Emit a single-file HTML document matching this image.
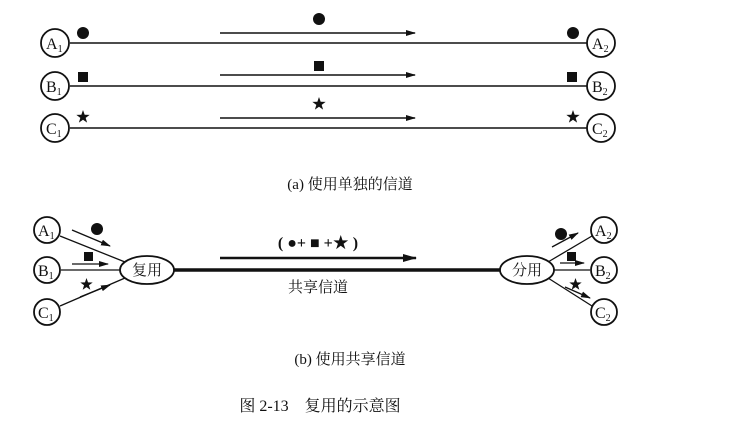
<!DOCTYPE html>
<html><head><meta charset="utf-8"><style>
body{margin:0;background:#fff}
svg text{font-family:"Liberation Serif","Noto Serif CJK SC",serif;fill:#111}
</style></head><body>
<svg width="739" height="422" viewBox="0 0 739 422" xmlns="http://www.w3.org/2000/svg">
<defs>
<marker id="ah" markerWidth="10" markerHeight="6" refX="9" refY="3" orient="auto" markerUnits="userSpaceOnUse"><path d="M0,0 L10,3 L0,6 Z" fill="#111"/></marker>
<marker id="ah2" markerWidth="14" markerHeight="8" refX="13" refY="4" orient="auto" markerUnits="userSpaceOnUse"><path d="M0,0 L14,4 L0,8 Z" fill="#111"/></marker>
<symbol id="star" viewBox="-1 -1 2 2"><path d="M0,-1 L0.235,-0.324 L0.951,-0.309 L0.38,0.124 L0.588,0.809 L0,0.4 L-0.588,0.809 L-0.38,0.124 L-0.951,-0.309 L-0.235,-0.324Z" fill="#111"/></symbol>
</defs>
<g stroke="#111" fill="none">
<line x1="70" y1="43" x2="588" y2="43" stroke-width="1.5"/>
<line x1="70" y1="86" x2="588" y2="86" stroke-width="1.5"/>
<line x1="70" y1="128" x2="588" y2="128" stroke-width="1.5"/>
<line x1="220" y1="33" x2="415" y2="33" stroke-width="1.5" marker-end="url(#ah)"/>
<line x1="220" y1="75" x2="415" y2="75" stroke-width="1.5" marker-end="url(#ah)"/>
<line x1="220" y1="118" x2="415" y2="118" stroke-width="1.5" marker-end="url(#ah)"/>
</g>
<g stroke="#111" stroke-width="1.8" fill="#fff">
<circle cx="55" cy="43" r="14"/><circle cx="55" cy="86" r="14"/><circle cx="55" cy="128" r="14"/>
<circle cx="601" cy="43" r="14"/><circle cx="601" cy="86" r="14"/><circle cx="601" cy="128" r="14"/>
</g>
<g font-size="16">
<text x="46" y="49">A<tspan font-size="10" dy="3">1</tspan></text>
<text x="46" y="92">B<tspan font-size="10" dy="3">1</tspan></text>
<text x="46" y="134">C<tspan font-size="10" dy="3">1</tspan></text>
<text x="592" y="49">A<tspan font-size="10" dy="3">2</tspan></text>
<text x="592" y="92">B<tspan font-size="10" dy="3">2</tspan></text>
<text x="592" y="134">C<tspan font-size="10" dy="3">2</tspan></text>
</g>
<g fill="#111">
<circle cx="83" cy="33" r="6"/><circle cx="319" cy="19" r="6"/><circle cx="573" cy="33" r="6"/>
<rect x="78" y="72" width="10" height="10"/><rect x="314" y="61" width="10" height="10"/><rect x="567" y="72" width="10" height="10"/>
</g>
<use href="#star" x="76" y="110" width="14" height="14"/>
<use href="#star" x="312" y="97" width="14" height="14"/>
<use href="#star" x="566" y="110" width="14" height="14"/>
<text x="350" y="189" font-size="15" text-anchor="middle">(a) 使用单独的信道</text>

<g stroke="#111" fill="none" stroke-width="1.3">
<line x1="60" y1="236" x2="125" y2="262"/>
<line x1="61" y1="270" x2="122" y2="270"/>
<line x1="60" y1="306" x2="125" y2="278"/>
<line x1="72" y1="230" x2="110" y2="246" marker-end="url(#ah)"/>
<line x1="72" y1="264" x2="108" y2="264" marker-end="url(#ah)"/>
<line x1="80" y1="297" x2="110" y2="285" marker-end="url(#ah)"/>
<line x1="548" y1="262" x2="592" y2="236"/>
<line x1="553" y1="270" x2="590" y2="270"/>
<line x1="548" y1="278" x2="592" y2="306"/>
<line x1="552" y1="247" x2="578" y2="233" marker-end="url(#ah)"/>
<line x1="560" y1="263" x2="584" y2="263" marker-end="url(#ah)"/>
<line x1="565" y1="287" x2="590" y2="298" marker-end="url(#ah)"/>
<line x1="174" y1="270" x2="502" y2="270" stroke-width="3.5"/>
<line x1="220" y1="258" x2="416" y2="258" stroke-width="2.5" marker-end="url(#ah2)"/>
</g>
<g stroke="#111" stroke-width="1.8" fill="#fff">
<circle cx="47" cy="230" r="13"/><circle cx="47" cy="270" r="13"/><circle cx="47" cy="312" r="13"/>
<circle cx="604" cy="230" r="13"/><circle cx="604" cy="270" r="13"/><circle cx="604" cy="312" r="13"/>
<ellipse cx="147" cy="270" rx="27" ry="14"/><ellipse cx="527" cy="270" rx="27" ry="14"/>
</g>
<g font-size="16">
<text x="38" y="236">A<tspan font-size="10" dy="3">1</tspan></text>
<text x="38" y="276">B<tspan font-size="10" dy="3">1</tspan></text>
<text x="38" y="318">C<tspan font-size="10" dy="3">1</tspan></text>
<text x="595" y="236">A<tspan font-size="10" dy="3">2</tspan></text>
<text x="595" y="276">B<tspan font-size="10" dy="3">2</tspan></text>
<text x="595" y="318">C<tspan font-size="10" dy="3">2</tspan></text>
</g>
<text x="147" y="275" font-size="15" text-anchor="middle">复用</text>
<text x="527" y="275" font-size="15" text-anchor="middle">分用</text>
<g fill="#111">
<circle cx="97" cy="229" r="6"/><rect x="84" y="252" width="9" height="9"/>
<circle cx="561" cy="234" r="6"/><rect x="567" y="252" width="9" height="9"/>
</g>
<use href="#star" x="80" y="278" width="13" height="13"/>
<use href="#star" x="569" y="278" width="13" height="13"/>
<text x="318" y="248" font-size="16" text-anchor="middle" font-weight="bold">( ●+ ■ +★ )</text>
<text x="318" y="292" font-size="15" text-anchor="middle">共享信道</text>
<text x="350" y="364" font-size="15" text-anchor="middle">(b) 使用共享信道</text>
<text x="320" y="411" font-size="16" text-anchor="middle">图 2-13　复用的示意图</text>
</svg>
</body></html>
